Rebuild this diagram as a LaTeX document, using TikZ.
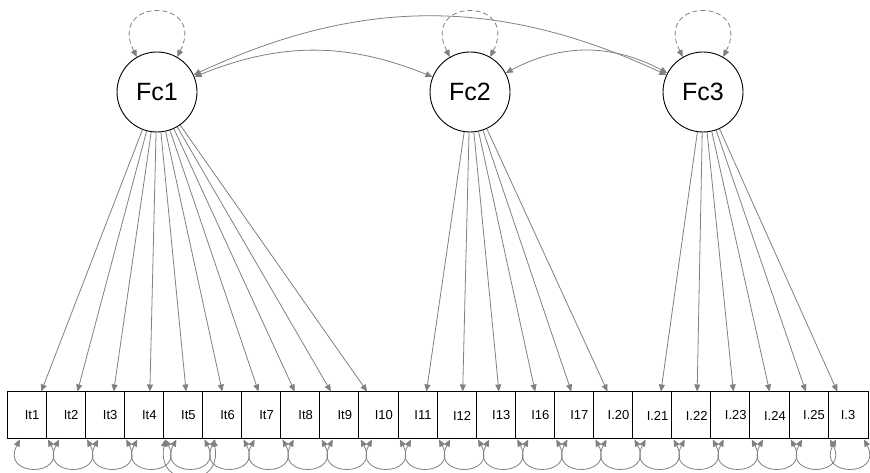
\documentclass[tikz,border=0pt]{standalone}
\usepackage{fontspec}
\setmainfont{Liberation Sans}
\usetikzlibrary{arrows.meta}
\usetikzlibrary{calc}

\begin{document}
\begin{tikzpicture}[x=1pt, y=1pt,
    >={Triangle[length=7pt, width=6pt]},
    latent/.style={circle, draw, line width=0.9pt, fill=white,
      minimum size=80pt, inner sep=0pt, font=\fontsize{25}{25}\selectfont},
    manifest/.style={rectangle, draw, line width=1pt, fill=white,
      minimum width=50pt, minimum height=47pt, inner sep=0pt,
      font=\fontsize{13}{13}\selectfont},
    edge/.style={draw=black!50, line width=0.8pt, ->},
    cov/.style={edge, <->},
    resid/.style={edge, <->},
    var/.style={edge, <->, dash pattern=on 5pt off 3pt}]
  \useasboundingbox (0, 0) rectangle (870, 473);
  % factors
  \node[latent] (fc1) at (157, 381) {Fc1};
  \node[latent] (fc2) at (470, 381) {Fc2};
  \node[latent] (fc3) at (703, 381) {Fc3};
  % items, each box drawn over the one before
  \foreach \lab [count=\i from 0] in {It1, It2, It3, It4, It5, It6, It7,
      It8, It9, I10, I11, I12, I13, I16, I17, I.20, I.21, I.22, I.23,
      I.24, I.25}{
    \node[manifest] (b\i) at (32 + 39.1*\i, 57.5) {\lab};
  }
  \node[manifest, minimum width=40pt] (b21) at (848, 57.5) {I.3};
  % loadings
  \foreach \i in {0, ..., 9}
    \draw[edge] (fc1) -- (b\i);
  \foreach \i in {10, ..., 15}
    \draw[edge] (fc2) -- (b\i);
  \foreach \i in {16, ..., 21}
    \draw[edge] (fc3) -- (b\i);
  % factor variances and covariances
  \foreach \f in {fc1, fc2, fc3}
    \draw[var] (\f.120) .. controls +(-30, 60) and +(30, 60) .. (\f.60);
  \draw[cov] (fc1) to[bend left=22] (fc2);
  \draw[cov] (fc1) to[bend left=25] (fc3);
  \draw[cov] (fc2) to[bend left=28] (fc3);
  % residuals
  \foreach \i in {0, ..., 21}
    \draw[resid] ([xshift=-12pt]b\i.south) .. controls +(-20, -38)
      and +(20, -38) .. ([xshift=16pt]b\i.south);
  \draw[resid] ([xshift=16pt]b3.south) .. controls +(-10, -50)
    and +(10, -50) .. ([xshift=-14pt]b5.south);
\end{tikzpicture}
\end{document}
